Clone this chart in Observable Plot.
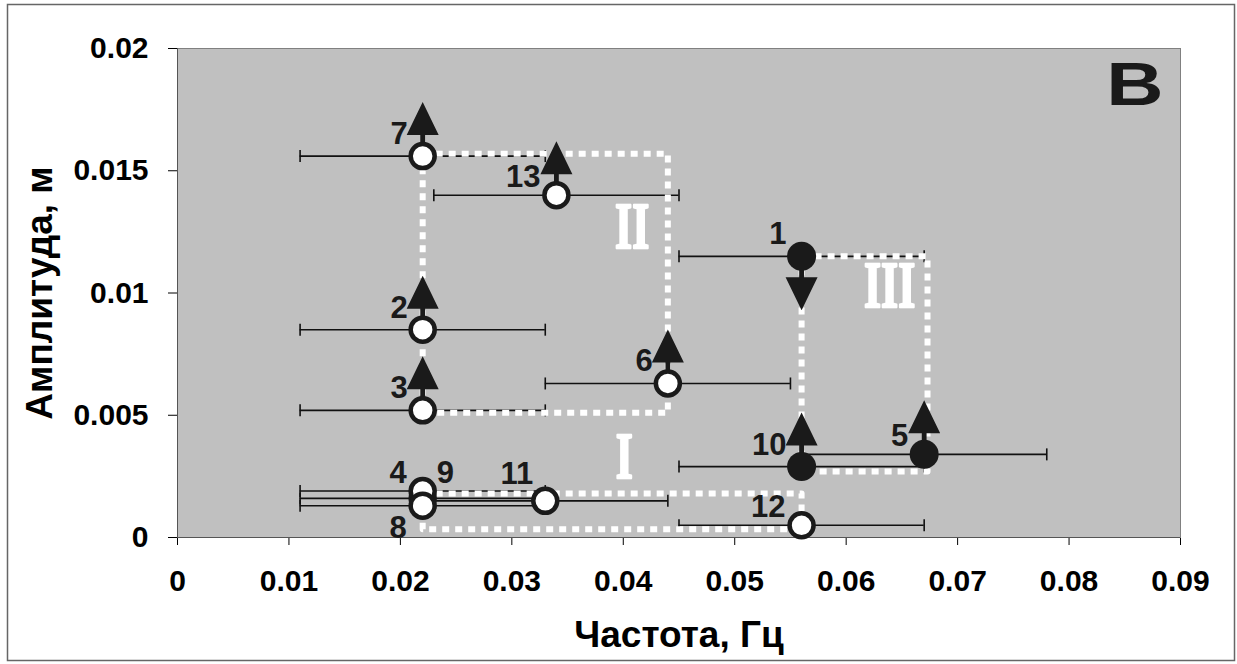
<!DOCTYPE html>
<html>
<head>
<meta charset="utf-8">
<script src="https://cdn.jsdelivr.net/npm/d3@7"></script>
<script src="https://cdn.jsdelivr.net/npm/@observablehq/plot@0.6"></script>
<style>
  body { margin: 0; background: #fff; }
  #chart { width: 1237px; height: 664px; }
  #chart svg { display: block; }
</style>
</head>
<body>
<div id="chart"></div>
<script>
// ---------------- data ----------------
const pointIds       = [1, 2, 3, 4, 5, 6, 7, 8, 9, 10, 11, 12, 13];
const frequency      = [0.056, 0.022, 0.022, 0.022, 0.067, 0.044, 0.022, 0.022, 0.022, 0.056, 0.033, 0.056, 0.034];
const amplitude      = [0.0115, 0.0085, 0.0052, 0.0019, 0.0034, 0.0063, 0.0156, 0.0013, 0.0016, 0.0029, 0.0015, 0.0005, 0.0140];
const frequencyError = [0.011, 0.011, 0.011, 0.011, 0.011, 0.011, 0.011, 0.011, 0.011, 0.011, 0.011, 0.011, 0.011];
const pointKind      = ["filled", "open", "open", "open", "filled", "open", "open", "open", "open", "filled", "open", "open", "open"];
const trend          = ["down", "up", "up", null, "up", "up", "up", null, null, "up", null, null, "up"];
// label placement: tl = top-left, tlh = top-left higher, tll = top-left lower, tr = top-right, bl = bottom-left
const labelSide      = ["tl", "tl", "tl", "tll", "tll", "tl", "tl", "bl", "tr", "tl", "tlh", "tll", "tll"];

// region outlines (corner points, frequency / amplitude)
const regionI   = [[0.022, 0.0018], [0.056, 0.0018], [0.056, 0.00034], [0.022, 0.00034], [0.022, 0.0018]];
const regionII  = [[0.022, 0.0157], [0.044, 0.0157], [0.044, 0.0051], [0.022, 0.0051], [0.022, 0.0157]];
const regionIII = [[0.056, 0.0115], [0.0673, 0.0115], [0.0673, 0.0027], [0.056, 0.0027], [0.056, 0.0115]];
const regionNames  = ["I", "II", "III"];
const regionLabelX = [0.0401, 0.0408, 0.0639];
const regionLabelY = [0.0033, 0.0127, 0.0103];

const panelLetter = "В";
const xTitle = "Частота, Гц";
const yTitle = "Амплитуда, м";

const xTicks      = [0, 0.01, 0.02, 0.03, 0.04, 0.05, 0.06, 0.07, 0.08, 0.09];
const xTickLabels = ["0", "0.01", "0.02", "0.03", "0.04", "0.05", "0.06", "0.07", "0.08", "0.09"];
const yTicks      = [0, 0.005, 0.01, 0.015, 0.02];
const yTickLabels = ["0", "0.005", "0.01", "0.015", "0.02"];

// ---------------- build tables ----------------
const pts = pointIds.map((id, i) => ({
  id, x: frequency[i], y: amplitude[i], err: frequencyError[i],
  kind: pointKind[i], trend: trend[i], side: labelSide[i]
}));
// draw order: point 9 lies underneath 4 and 8
const openPts = pts.filter(d => d.kind === "open").sort((a, b) => (b.id === 9) - (a.id === 9));
const regions = [regionI, regionII, regionIII].flatMap((r, k) =>
  r.map(([x, y]) => ({x, y, region: regionNames[k]})));
const regionLabels = regionNames.map((name, i) => ({name, x: regionLabelX[i], y: regionLabelY[i]}));
const xLabelMap = new Map(xTicks.map((t, i) => [t, xTickLabels[i]]));
const yLabelMap = new Map(yTicks.map((t, i) => [t, yTickLabels[i]]));

// ---------------- custom symbols (pixel shapes) ----------------
const capSymbol = {draw(ctx) { ctx.moveTo(0, -6); ctx.lineTo(0, 6); }};
function arrowShape(s) { // s = -1 up, +1 down
  return {draw(ctx) {
    ctx.moveTo(-2.4, 0); ctx.lineTo(-2.4, 22 * s); ctx.lineTo(2.4, 22 * s); ctx.lineTo(2.4, 0); ctx.closePath();
    ctx.moveTo(-16, 21 * s); ctx.lineTo(0, 54 * s); ctx.lineTo(16, 21 * s); ctx.closePath();
  }};
}
const arrowUp = arrowShape(-1);
const arrowDown = arrowShape(1);

const ink = "#1a1a1a";
const sans = "'Liberation Sans', Arial, sans-serif";
const labelFont = 31;
const labelOpts = (side, textAnchor, dx, dy) =>
  Plot.text(pts.filter(d => d.side === side), {x: "x", y: "y", text: d => String(d.id), textAnchor, dx, dy,
    fontSize: labelFont, fontWeight: "bold", fill: ink});

const chart = Plot.plot({
  width: 1237,
  height: 664,
  marginLeft: 177,
  marginRight: 57,
  marginTop: 48,
  marginBottom: 127,
  style: {fontFamily: sans, fontSize: "30px", fontWeight: "bold", color: "#000", background: "#fff"},
  x: {domain: [0, 0.09], ticks: xTicks, tickFormat: d => xLabelMap.get(d), tickSize: 8, tickPadding: 24, label: null},
  y: {domain: [0, 0.02], ticks: yTicks, tickFormat: d => yLabelMap.get(d), tickSize: 9, tickPadding: 20, label: null},
  marks: [
    Plot.frame({fill: "#c0c0c0", stroke: "#808080"}),
    Plot.ruleX([0], {stroke: "#555"}),
    Plot.ruleY([0], {stroke: "#555"}),
    // error bars
    Plot.ruleY(pts, {y: "y", x1: d => d.x - d.err, x2: d => d.x + d.err, stroke: "#111", strokeWidth: 1.6}),
    Plot.dot(pts, {x: d => d.x - d.err, y: "y", symbol: capSymbol, fill: "none", stroke: "#111", strokeWidth: 1.6}),
    Plot.dot(pts, {x: d => d.x + d.err, y: "y", symbol: capSymbol, fill: "none", stroke: "#111", strokeWidth: 1.6}),
    // region outlines
    Plot.line(regions, {x: "x", y: "y", z: "region", stroke: "#fff", strokeWidth: 6, strokeDasharray: "7,6", strokeLinecap: "butt"}),
    // arrows
    Plot.dot(pts.filter(d => d.trend === "up"), {x: "x", y: "y", symbol: arrowUp, fill: ink, stroke: "none"}),
    Plot.dot(pts.filter(d => d.trend === "down"), {x: "x", y: "y", symbol: arrowDown, fill: ink, stroke: "none"}),
    // points
    Plot.dot(openPts, {x: "x", y: "y", r: 12, fill: "#fff", stroke: ink, strokeWidth: 4.5}),
    Plot.dot(pts.filter(d => d.kind === "filled"), {x: "x", y: "y", r: 14.5, fill: ink, stroke: "none"}),
    // point labels
    labelOpts("tl", "end", -15, -22),
    labelOpts("tlh", "end", -12, -27),
    labelOpts("tll", "end", -16, -18),
    labelOpts("tr", "start", 14, -25),
    labelOpts("bl", "end", -16, 22),
    // region labels
    Plot.text(regionLabels, {x: "x", y: "y", text: "name", fill: "#fff", stroke: "#fff", strokeWidth: 1.6, fontSize: 44, fontWeight: "bold",
      fontFamily: "'Liberation Serif', 'DejaVu Serif', serif"}),
    // panel letter
    Plot.text([panelLetter], {frameAnchor: "top-right", text: d => d, textAnchor: "end", lineAnchor: "top",
      dx: -17, dy: 13, fontSize: 61, fontWeight: "bold", fill: ink}),
    // axis titles
    Plot.text([xTitle], {frameAnchor: "bottom", text: d => d, textAnchor: "middle", lineAnchor: "middle", dy: 98, fontSize: 37, fontWeight: "bold", fill: "#000"}),
    Plot.text([yTitle], {frameAnchor: "left", text: d => d, textAnchor: "middle", lineAnchor: "middle", dx: -137, rotate: -90, fontSize: 37, fontWeight: "bold", fill: "#000"})
  ]
});

document.getElementById("chart").appendChild(chart);

// stretch glyphs like the reference (region numerals taller, panel letter wider)
function stretch(match, sx, sy) {
  chart.querySelectorAll("text").forEach(el => {
    if (el.children.length || !match(el.textContent)) return;
    const t = el.getAttribute("transform") || "";
    el.setAttribute("transform", `${t} scale(${sx},${sy})`);
  });
}
stretch(s => regionNames.includes(s), 1, 1.5);
stretch(s => s === panelLetter, 1.3, 1);

// outer figure border
d3.select(chart).append("rect")
  .attr("x", 7.5).attr("y", 4.5).attr("width", 1227).attr("height", 656)
  .attr("fill", "none").attr("stroke", "#666").attr("stroke-width", 1.5);
</script>
</body>
</html>
